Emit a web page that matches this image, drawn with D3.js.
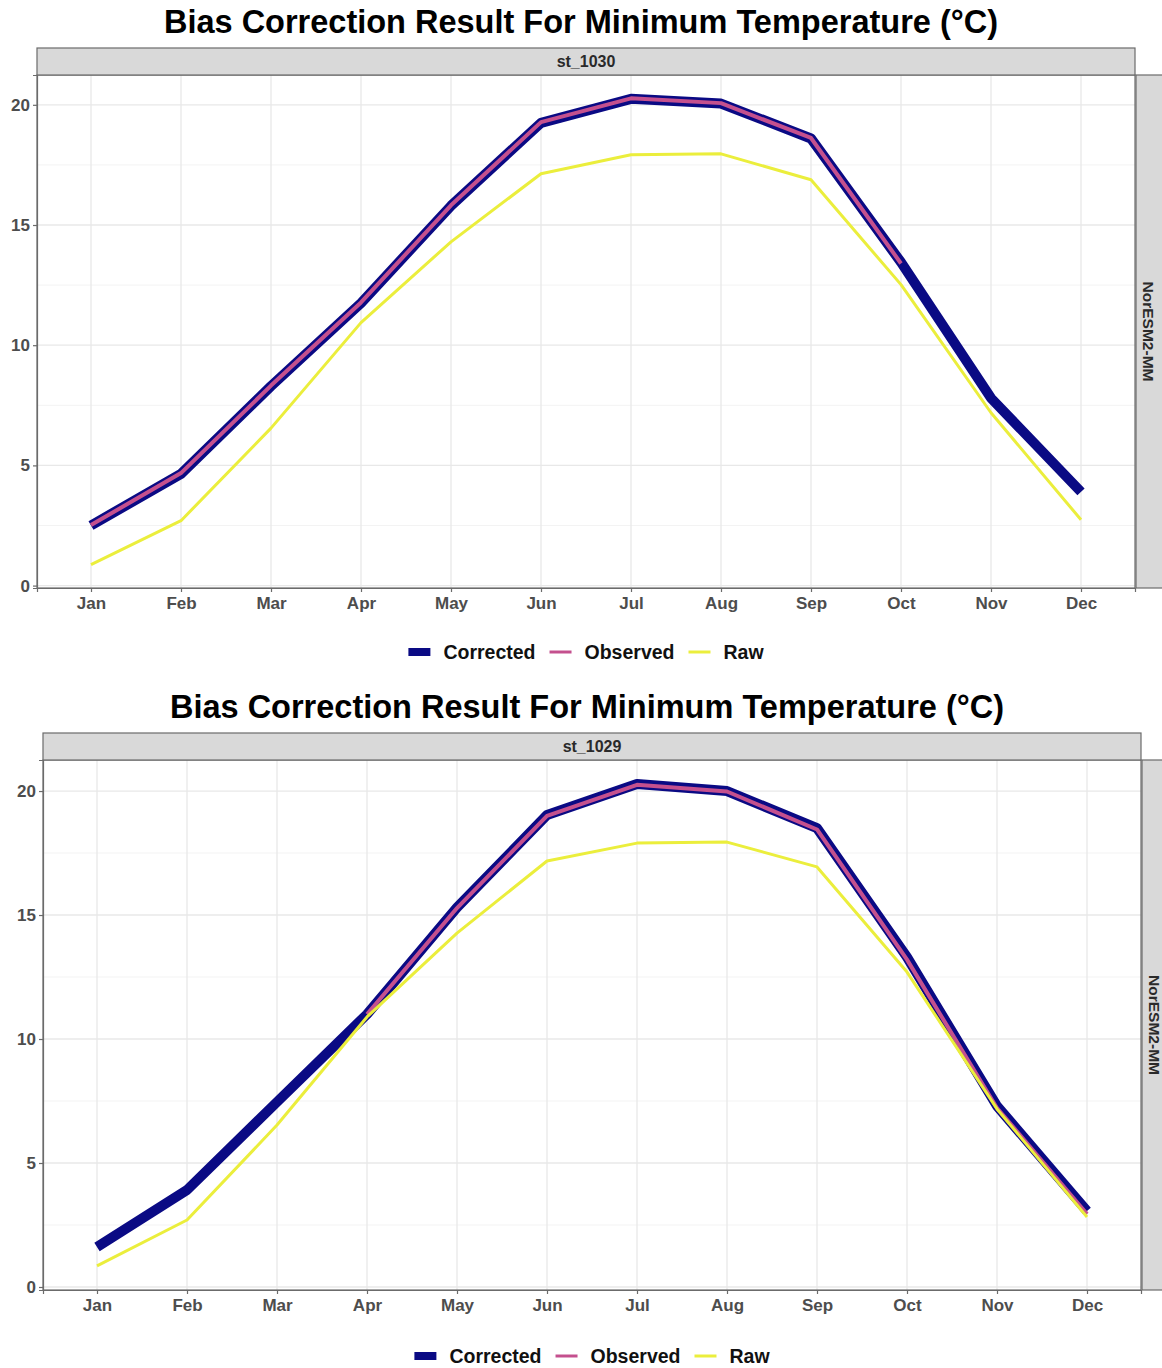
<!DOCTYPE html>
<html>
<head>
<meta charset="utf-8">
<script src="https://cdn.jsdelivr.net/npm/d3@7"></script>
<style>
  html, body { margin: 0; padding: 0; background: #ffffff; }
  svg { display: block; font-family: "Liberation Sans", Arial, sans-serif; }
</style>
</head>
<body>
<svg id="chart" width="1162" height="1368"></svg>
<script>
// Monthly climatology of minimum temperature (°C)
const months = ["Jan", "Feb", "Mar", "Apr", "May", "Jun", "Jul", "Aug", "Sep", "Oct", "Nov", "Dec"];
const yTicks = [0, 5, 10, 15, 20];
const seriesNames = ["Corrected", "Observed", "Raw"];
const seriesColors = ["#0a0a84", "#c4508e", "#ebee3c"];
const titleText = "Bias Correction Result For Minimum Temperature (°C)";
const modelName = "NorESM2-MM";

// Station st_1030
const st1030Corrected = [2.50, 4.65, 8.30, 11.75, 15.80, 19.25, 20.25, 20.05, 18.60, 13.45, 7.80, 3.90];
const st1030Observed  = [2.52, 4.68, 8.32, 11.78, 15.82, 19.28, 20.27, 20.07, 18.62, 13.40, null, null];
const st1030Raw       = [0.87, 2.70, 6.55, 10.94, 14.30, 17.13, 17.92, 17.96, 16.88, 12.52, 7.19, 2.74];

// Station st_1029
const st1029Corrected = [1.61, 3.91, 7.46, 11.00, 15.30, 19.03, 20.28, 20.00, 18.50, 13.30, 7.30, 3.06];
const st1029Observed  = [null, null, null, 11.00, 15.28, 19.00, 20.25, 19.98, 18.45, 13.20, 7.22, 2.94];
const st1029Raw       = [0.85, 2.70, 6.53, 10.89, 14.27, 17.18, 17.90, 17.94, 16.94, 12.70, 7.18, 2.82];

const svg = d3.select("#chart");

function drawPanel(opt) {
  const { left, right, top, bottom, stripH, sideW, titleY, legendY, station, series } = opt;
  const g = svg.append("g");

  // y domain: data extent expanded by 5% on each side
  const all = series.flat().filter(v => v != null);
  const lo = d3.min(all), hi = d3.max(all);
  const pad = (hi - lo) * 0.05;
  const y = d3.scaleLinear().domain([lo - pad, hi + pad]).range([bottom, top]);
  const x = d3.scalePoint().domain(months).range([left, right]).padding(0.6);

  // title
  g.append("text")
    .attr("x", (left + right) / 2 - 5).attr("y", titleY)
    .attr("text-anchor", "middle")
    .attr("font-size", 32.5).attr("font-weight", "bold").attr("fill", "#000")
    .text(titleText);

  // panel background
  g.append("rect").attr("x", left).attr("y", top)
    .attr("width", right - left).attr("height", bottom - top).attr("fill", "#fff");

  // minor y grid
  const minor = d3.range(2.5, 21, 5);
  g.append("g").selectAll("line").data(minor).join("line")
    .attr("x1", left).attr("x2", right)
    .attr("y1", d => y(d)).attr("y2", d => y(d))
    .attr("stroke", "#f3f3f3").attr("stroke-width", 1);

  // major grid
  g.append("g").selectAll("line").data(yTicks).join("line")
    .attr("x1", left).attr("x2", right)
    .attr("y1", d => y(d)).attr("y2", d => y(d))
    .attr("stroke", "#e8e8e8").attr("stroke-width", 1.3);
  g.append("g").selectAll("line").data(months).join("line")
    .attr("x1", d => x(d)).attr("x2", d => x(d))
    .attr("y1", top).attr("y2", bottom)
    .attr("stroke", "#e8e8e8").attr("stroke-width", 1.3);

  // series lines
  const widths = [10, 4, 3];
  series.forEach((vals, i) => {
    const line = d3.line()
      .defined(d => d.v != null)
      .x(d => x(d.m)).y(d => y(d.v));
    g.append("path")
      .datum(months.map((m, k) => ({ m, v: vals[k] })))
      .attr("d", line)
      .attr("fill", "none")
      .attr("stroke", seriesColors[i])
      .attr("stroke-width", widths[i])
      .attr("stroke-linejoin", "round")
      .attr("stroke-linecap", "butt");
  });

  // panel border
  g.append("rect").attr("x", left).attr("y", top)
    .attr("width", right - left).attr("height", bottom - top)
    .attr("fill", "none").attr("stroke", "#6b6b6b").attr("stroke-width", 1.2);

  // top strip
  g.append("rect").attr("x", left).attr("y", top - stripH)
    .attr("width", right - left).attr("height", stripH)
    .attr("fill", "#d9d9d9").attr("stroke", "#6b6b6b").attr("stroke-width", 1.2);
  g.append("text")
    .attr("x", (left + right) / 2).attr("y", top - stripH / 2 + 5.5)
    .attr("text-anchor", "middle").attr("font-size", 16).attr("font-weight", "bold")
    .attr("fill", "#2a2a2a").text(station);

  // side strip
  g.append("rect").attr("x", right + 1).attr("y", top)
    .attr("width", sideW).attr("height", bottom - top)
    .attr("fill", "#d9d9d9").attr("stroke", "#6b6b6b").attr("stroke-width", 1.2);
  const sx = right + 13, sy = (top + bottom) / 2;
  g.append("text")
    .attr("transform", `translate(${sx},${sy}) rotate(90)`)
    .attr("text-anchor", "middle").attr("dy", "0.35em")
    .attr("font-size", 15.5).attr("font-weight", "bold")
    .attr("fill", "#2a2a2a").text(modelName);

  // axes
  const yAxis = d3.axisLeft(y).tickValues(yTicks).tickSize(4).tickPadding(3);
  const ya = g.append("g").attr("transform", `translate(${left},0)`).call(yAxis);
  const xAxis = d3.axisBottom(x).tickSize(4).tickPadding(5);
  const xa = g.append("g").attr("transform", `translate(0,${bottom})`).call(xAxis);
  [ya, xa].forEach(a => {
    a.select(".domain").attr("stroke", "#6b6b6b").attr("stroke-width", 1.2);
    a.selectAll(".tick line").attr("stroke", "#6b6b6b").attr("stroke-width", 1.2);
    a.selectAll(".tick text").attr("fill", "#4d4d4d")
      .attr("font-size", 17).attr("font-weight", "bold")
      .attr("font-family", "'Liberation Sans', Arial, sans-serif");
  });

  // legend
  const lg = g.append("g");
  let cx = 0;
  seriesNames.forEach((name, i) => {
    const item = lg.append("g").attr("transform", `translate(${cx},0)`);
    if (i === 0) {
      item.append("rect").attr("x", 0).attr("y", -4).attr("width", 22).attr("height", 8)
        .attr("fill", seriesColors[i]);
    } else {
      item.append("line").attr("x1", 0).attr("x2", 22).attr("y1", 0).attr("y2", 0)
        .attr("stroke", seriesColors[i]).attr("stroke-width", 3);
    }
    const t = item.append("text").attr("x", 35).attr("y", 7)
      .attr("font-size", 19.5).attr("font-weight", "bold").attr("fill", "#111").text(name);
    cx += 35 + t.node().getComputedTextLength() + 14;
  });
  const lw = cx - 14;
  lg.attr("transform", `translate(${(left + right) / 2 - lw / 2},${legendY})`);
}

drawPanel({
  left: 37, right: 1135, top: 75, bottom: 588, stripH: 27, sideW: 30,
  titleY: 33, legendY: 652, station: "st_1030",
  series: [st1030Corrected, st1030Observed, st1030Raw]
});

drawPanel({
  left: 43, right: 1141, top: 760, bottom: 1290, stripH: 27, sideW: 30,
  titleY: 718, legendY: 1356, station: "st_1029",
  series: [st1029Corrected, st1029Observed, st1029Raw]
});
</script>
</body>
</html>
